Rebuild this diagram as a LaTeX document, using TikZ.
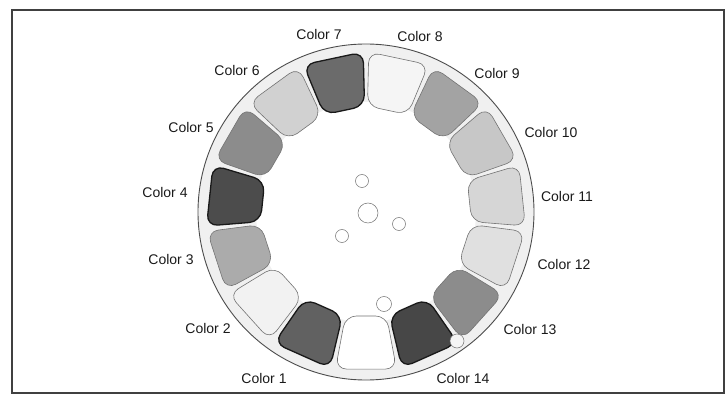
\documentclass[tikz,border=0pt]{standalone}
\usepackage{fontspec}
\setmainfont{Liberation Sans}
\usepackage{xcolor}
\usepackage{tikz}
\usetikzlibrary{shapes.geometric}

\begin{document}
\begin{tikzpicture}[
  x = 1pt, y = 1pt,
  wheel/.style    = {draw=black!70, line width=0.9pt, fill=black!6},
  tile/.style     = {draw=black!55, line width=0.6pt, rounded corners=11pt},
  darktile/.style = {tile, draw=black!90, line width=1.3pt},
  hole/.style     = {circle, draw=black!55, line width=0.5pt, fill=white, inner sep=0pt},
  label/.style    = {font=\fontsize{14}{16}\selectfont, text=black!90},
]
\useasboundingbox (-366,-184) rectangle (362,212);

%% --- Frame ---
\draw[black!75, line width=1.1pt] (-354,-181) rectangle (358,202);

%% --- Wheel ---
\draw[wheel] (0,0) circle (168);
\fill[white] (0,0) circle (110);

%% --- Tiles ---
\foreach \a/\tone/\kind in {270/white/tile,      246/black!62/darktile,
                            222/black!5/tile,    198/black!33/tile,
                            174/black!70/darktile, 150/black!45/tile,
                            126/black!18/tile,   102/black!58/darktile,
                            78/black!4/tile,     54/black!36/tile,
                            30/black!22/tile,    6/black!16/tile,
                            342/black!12/tile,   318/black!45/tile,
                            294/black!72/darktile}
  \draw[\kind, fill=\tone] ({\a-11.2}:106) -- ({\a+11.2}:106)
        -- ({\a+11}:160) -- ({\a-11}:160) -- cycle;

%% --- Holes ---
\node[hole, minimum size=13pt] (h1) at (-4,31)    {};
\node[hole, minimum size=20pt] (h2) at (2,-1)     {};
\node[hole, minimum size=13pt] (h3) at (33,-12)   {};
\node[hole, minimum size=13pt] (h4) at (-24,-24)  {};
\node[hole, minimum size=15pt] (h5) at (18,-92)   {};
\node[hole, minimum size=14pt, fill=black!4] (h6) at (91,-129) {};

%% --- Labels ---
\foreach \n/\x/\y in {1/-102/-166, 2/-158/-116, 3/-195/-47, 4/-201/20,
                      5/-175/85,   6/-129/142,  7/-47/178,  8/54/176,
                      9/131/139,   10/185/80,   11/201/16,  12/198/-52,
                      13/164/-117, 14/97/-166}
  \node[label] (c\n) at (\x,\y) {Color \n};

\end{tikzpicture}
\end{document}
